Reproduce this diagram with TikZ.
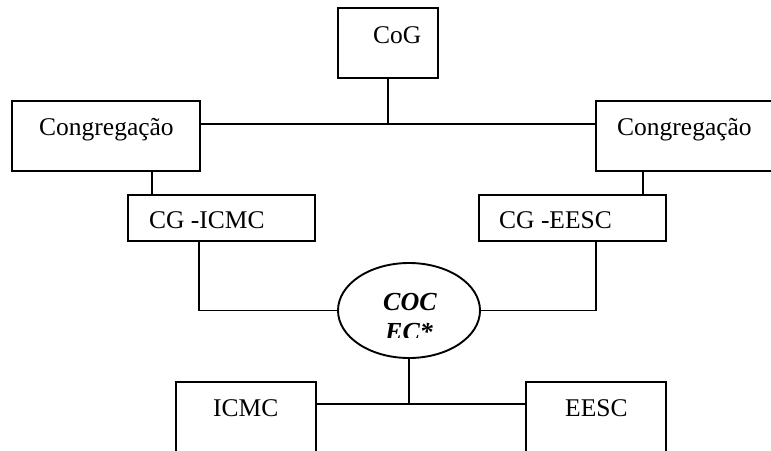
\documentclass[tikz,border=0pt]{standalone}
\usepackage{fontspec}
\setmainfont{Liberation Serif}
\usetikzlibrary{shapes.geometric}
\begin{document}
\begin{tikzpicture}[x=1pt,y=-1pt,
  box/.style={draw,line width=1.9pt,inner sep=0pt,rectangle},
  oval/.style={draw,line width=1.9pt,inner sep=0pt,ellipse},
  link/.style={line width=1.9pt},
  lbl/.style={anchor=base west,inner sep=0pt,font=\fontsize{25.5}{30}\selectfont}]
\useasboundingbox (0,0) rectangle (771,450);
\begin{scope}
\clip (0,0) rectangle (771,450);
% boxes
\node[box,minimum width=100pt,minimum height=70pt] (cog) at (388,43) {};
\node[box,minimum width=188pt,minimum height=70pt] (congL) at (106,136) {};
\node[box,minimum width=204pt,minimum height=70pt] (congR) at (698,136) {};
\node[box,minimum width=187pt,minimum height=46pt] (cgi) at (221.5,218) {};
\node[box,minimum width=187pt,minimum height=46pt] (cge) at (572.5,218) {};
\node[oval,minimum width=142pt,minimum height=95pt] (coc) at (409,310.5) {};
\node[box,minimum width=140pt,minimum height=108pt] (icmc) at (246,436) {};
\node[box,minimum width=140pt,minimum height=108pt] (eesc) at (596,436) {};
% texts
\node[lbl] (tcog) at (373,43) {CoG};
\node[lbl,font=\fontsize{25.5}{30}\selectfont] (tcl) at (39,135) {Congregação};
\node[lbl,font=\fontsize{25.5}{30}\selectfont] (tcr) at (617,135) {Congregação};
\node[lbl] (tcgi) at (149,228) {CG -ICMC};
\node[lbl] (tcge) at (499,228) {CG -EESC};
\node[lbl] (ticmc) at (213,416) {ICMC};
\node[lbl] (teesc) at (565,416) {EESC};
\node[lbl,font=\fontsize{26}{31}\selectfont\bfseries\itshape] (tcoc) at (383,310) {COC};
\begin{scope}
\clip (338,263) rectangle (480,337);
\node[lbl,font=\fontsize{26}{31}\selectfont\bfseries\itshape] (tec) at (385,340) {EC*};
\end{scope}
% connectors
\coordinate (hub) at (388,124);
\coordinate (xl) at (152,0);
\coordinate (xr) at (643,0);
\coordinate (xgi) at (199,0);
\coordinate (xge) at (596,0);
\coordinate (ybot) at (0,404);
\draw[link] (cog.south) -- (hub);
\draw[link] (congL.east |- hub) -- (congR.west |- hub);
\draw[link] (congL.south -| xl) -- (cgi.north -| xl);
\draw[link] (congR.south -| xr) -- (cge.north -| xr);
\draw[link] (cgi.south -| xgi) |- (coc.west);
\draw[link] (cge.south -| xge) |- (coc.east);
\draw[link] (coc.south) -- (coc.south |- ybot);
\draw[link] (icmc.east |- ybot) -- (eesc.west |- ybot);
\end{scope}
\end{tikzpicture}
\end{document}
